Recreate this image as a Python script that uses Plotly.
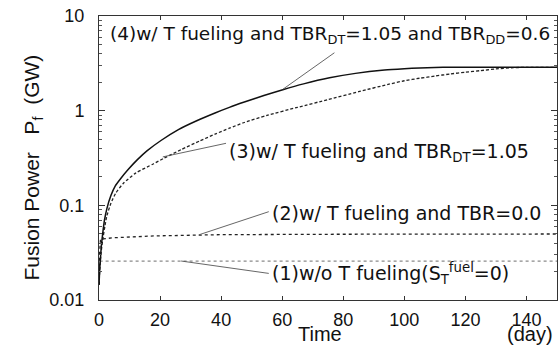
import plotly.graph_objects as go

# ---- data ----
t4 = [0, 0.2, 0.43, 0.8, 1.2, 1.8, 2.6, 3.9, 5.3, 7, 9.4, 12.5, 15.7, 20.3, 26, 32, 38, 42.7,
      47.6, 54, 60.2, 67, 75.5, 84, 93.5, 100, 105, 110, 115, 130, 150]
p4 = [0.0145, 0.02, 0.0265, 0.038, 0.05, 0.07, 0.093, 0.127, 0.16, 0.19, 0.236, 0.302,
      0.376, 0.484, 0.631, 0.782, 0.946, 1.084, 1.233, 1.445, 1.667, 1.919, 2.223, 2.477,
      2.685, 2.773, 2.825, 2.858, 2.871, 2.871, 2.871]

t3 = [0, 0.3, 0.7, 1.2, 2, 2.6, 3.9, 5.5, 8, 12, 17.9, 21.4, 27, 33, 38, 42.7, 47.6, 55, 65,
      75, 85, 95, 100, 105, 110, 115, 120, 125, 130, 135, 140, 150]
p3 = [0.0145, 0.022, 0.032, 0.043, 0.062, 0.078, 0.105, 0.135, 0.171, 0.219, 0.275, 0.316,
      0.389, 0.479, 0.565, 0.653, 0.75, 0.891, 1.084, 1.31, 1.585, 1.905, 2.07, 2.2, 2.32,
      2.44, 2.55, 2.65, 2.76, 2.84, 2.87, 2.87]

t2 = [0, 0.15, 0.5, 5, 18, 40, 80, 150]
p2 = [0.0145, 0.03, 0.044, 0.0455, 0.0475, 0.049, 0.0495, 0.0498]

t1 = [0, 0.1, 150]
p1 = [0.0145, 0.0258, 0.0258]

# callout lines (text end -> curve end)
c4_t, c4_p = [77.1, 60.2], [4.09, 1.68]
c3_t, c3_p = [41.6, 20.9], [0.452, 0.325]
c2_t, c2_p = [55.6, 32.7], [0.0857, 0.0488]
c1_t, c1_p = [55.6, 26.9], [0.0191, 0.0258]

labels = [
    "(4)w/ T fueling and TBR<sub>DT</sub>=1.05 and TBR<sub>DD</sub>=0.6",
    "(3)w/ T fueling and TBR<sub>DT</sub>=1.05",
    "(2)w/ T fueling and TBR=0.0",
    "(1)w/o T fueling(S<sub>T</sub><sup>fuel</sup>=0)",
]
label_t = [3.0, 41.8, 56.0, 56.0]
label_logp = [0.80, -0.447, -1.081, -1.715]
label_size = [18.5, 19, 19, 19]

xticks = [0, 20, 40, 60, 80, 100, 120, 140]
yticks = [0.01, 0.1, 1, 10]
yticktext = ["0.01", "0.1", "1", "10"]

FONT = "Liberation Sans, Arial, sans-serif"
TXT = "DejaVu Sans, sans-serif"

fig = go.Figure()
fig.add_trace(go.Scatter(x=t1, y=p1, mode="lines", line=dict(color="#8a8a8a", width=1.2, dash="dot")))
fig.add_trace(go.Scatter(x=t2, y=p2, mode="lines", line=dict(color="#222", width=1.3, dash="dot")))
fig.add_trace(go.Scatter(x=t3, y=p3, mode="lines",
                         line=dict(color="#222", width=1.3, dash="3px,2px", shape="spline", smoothing=0.6)))
fig.add_trace(go.Scatter(x=t4, y=p4, mode="lines",
                         line=dict(color="#111", width=1.5, shape="spline", smoothing=0.6)))
for ct, cp in [(c4_t, c4_p), (c3_t, c3_p), (c2_t, c2_p), (c1_t, c1_p)]:
    fig.add_trace(go.Scatter(x=ct, y=cp, mode="lines", line=dict(color="#555", width=0.9)))

annotations = []
for txt, tx, ly, sz in zip(labels, label_t, label_logp, label_size):
    annotations.append(dict(x=tx, y=ly, xref="x", yref="y", text=txt, showarrow=False,
                            xanchor="left", yanchor="middle",
                            font=dict(family=TXT, size=sz, color="#111")))
annotations.append(dict(x=-0.145, y=0.465, xref="paper", yref="paper", textangle=-90,
                        xanchor="center", yanchor="middle",
                        text="Fusion Power\u00a0\u00a0\u00a0P<sub>f</sub>\u00a0\u00a0(GW)",
                        showarrow=False, font=dict(family=FONT, size=21, color="#111")))
annotations.append(dict(x=0.483, y=-0.118, xref="paper", yref="paper", text="Time",
                        showarrow=False, xanchor="center", yanchor="middle",
                        font=dict(family=FONT, size=20, color="#111")))
annotations.append(dict(x=0.995, y=-0.118, xref="paper", yref="paper", text="(day)",
                        showarrow=False, xanchor="right", yanchor="middle",
                        font=dict(family=FONT, size=20, color="#111")))

fig.update_layout(
    width=559, height=345,
    margin=dict(l=99, r=2, t=16, b=45),
    paper_bgcolor="white", plot_bgcolor="white",
    showlegend=False,
    annotations=annotations,
    xaxis=dict(range=[0, 150], tickvals=xticks, ticks="inside", ticklen=4,
               tickcolor="#333", mirror="ticks", showline=True, linecolor="#333",
               linewidth=1, showgrid=False, zeroline=False,
               tickfont=dict(family=FONT, size=18, color="#111"), ticklabelstandoff=3),
    yaxis=dict(type="log", range=[-2, 1], tickvals=yticks, ticktext=yticktext,
               ticks="inside", ticklen=6, tickcolor="#333", mirror="ticks",
               showline=True, linecolor="#333", linewidth=1, showgrid=False,
               zeroline=False, tickfont=dict(family=FONT, size=18, color="#111"),
               ticklabelstandoff=10,
               minor=dict(ticks="inside", ticklen=3, tickcolor="#555", showgrid=False,
                          dtick="D1")),
)

fig.write_html("out.html")
